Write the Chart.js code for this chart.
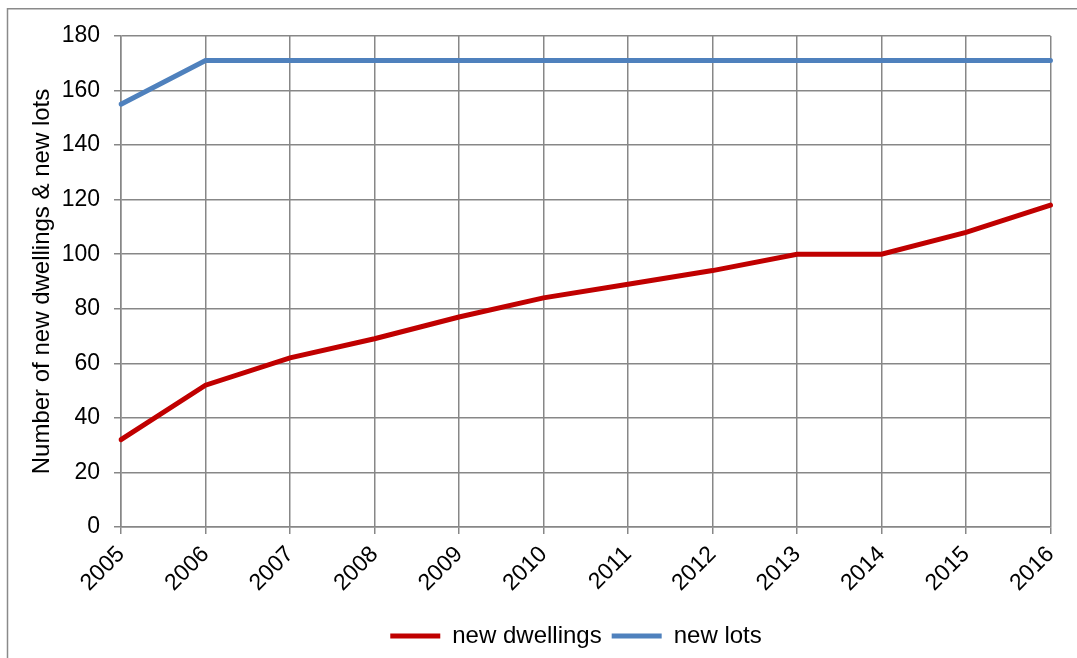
<!DOCTYPE html>
<html>
<head>
<meta charset="utf-8">
<script src="https://cdn.jsdelivr.net/npm/chart.js@4"></script>
<style>
  html, body { margin: 0; padding: 0; background: #fff; }
  #wrap { width: 1077px; height: 658px; }
</style>
</head>
<body>
<div id="wrap"><canvas id="dwellingsChart" width="1077" height="658"></canvas></div>
<script>
const years = ['2005', '2006', '2007', '2008', '2009', '2010', '2011', '2012', '2013', '2014', '2015', '2016'];
const newDwellings = [32, 52, 62, 69, 77, 84, 89, 94, 100, 100, 108, 118];
const newLots = [155, 171, 171, 171, 171, 171, 171, 171, 171, 171, 171, 171];

const gridGrey = '#878787';
const fontName = '"Liberation Sans", Arial, sans-serif';

// thin grey frame round the whole chart (right and bottom edges fall off the canvas)
const outerFrame = {
  id: 'outerFrame',
  afterLayout(chart) {
    // legend in the original sits a bit right of the canvas centre
    if (chart.legend) {
      chart.legend.left += 46;
      chart.legend.right += 46;
    }
  },
  afterDraw(chart) {
    const ctx = chart.ctx;
    ctx.save();
    ctx.strokeStyle = '#8a8a8a';
    ctx.lineWidth = 1.5;
    ctx.strokeRect(7.5, 8.75, 1100, 700);
    ctx.restore();
  }
};

new Chart(document.getElementById('dwellingsChart').getContext('2d'), {
  type: 'line',
  data: {
    labels: years,
    datasets: [
      {
        label: 'new dwellings',
        data: newDwellings,
        borderColor: '#C00000',
        backgroundColor: '#C00000',
        borderWidth: 5,
        borderCapStyle: 'round',
        pointRadius: 0,
        tension: 0
      },
      {
        label: 'new lots',
        data: newLots,
        borderColor: '#4F81BD',
        backgroundColor: '#4F81BD',
        borderWidth: 5,
        borderCapStyle: 'round',
        pointRadius: 0,
        tension: 0
      }
    ]
  },
  options: {
    responsive: false,
    animation: false,
    layout: { padding: { top: 36, right: 25, left: 8, bottom: 0 } },
    scales: {
      x: {
        offset: false,
        grid: { color: gridGrey, lineWidth: 1.5, tickLength: 7, tickColor: gridGrey },
        border: { color: gridGrey, width: 1.5 },
        ticks: {
          color: '#000',
          font: { family: fontName, size: 23 },
          minRotation: 45,
          maxRotation: 45,
          padding: 7
        },
        afterFit(scale) { scale.height = 87; }
      },
      y: {
        min: 0,
        max: 180,
        grid: { color: gridGrey, lineWidth: 1.5, tickLength: 7, tickColor: gridGrey },
        border: { color: gridGrey, width: 1.5 },
        ticks: {
          stepSize: 20,
          color: '#000',
          font: { family: fontName, size: 23 },
          padding: 14
        },
        title: {
          display: true,
          text: 'Number of new dwellings & new lots',
          color: '#000',
          font: { family: fontName, size: 24 },
          padding: { top: 20, bottom: 0 }
        },
        afterFit(scale) { scale.width = 113; }
      }
    },
    plugins: {
      legend: {
        position: 'bottom',
        labels: {
          usePointStyle: true,
          pointStyle: 'line',
          pointStyleWidth: 50,
          color: '#000',
          font: { family: fontName, size: 24 },
          padding: 10
        }
      },
      tooltip: { enabled: false }
    }
  },
  plugins: [outerFrame]
});
</script>
</body>
</html>
